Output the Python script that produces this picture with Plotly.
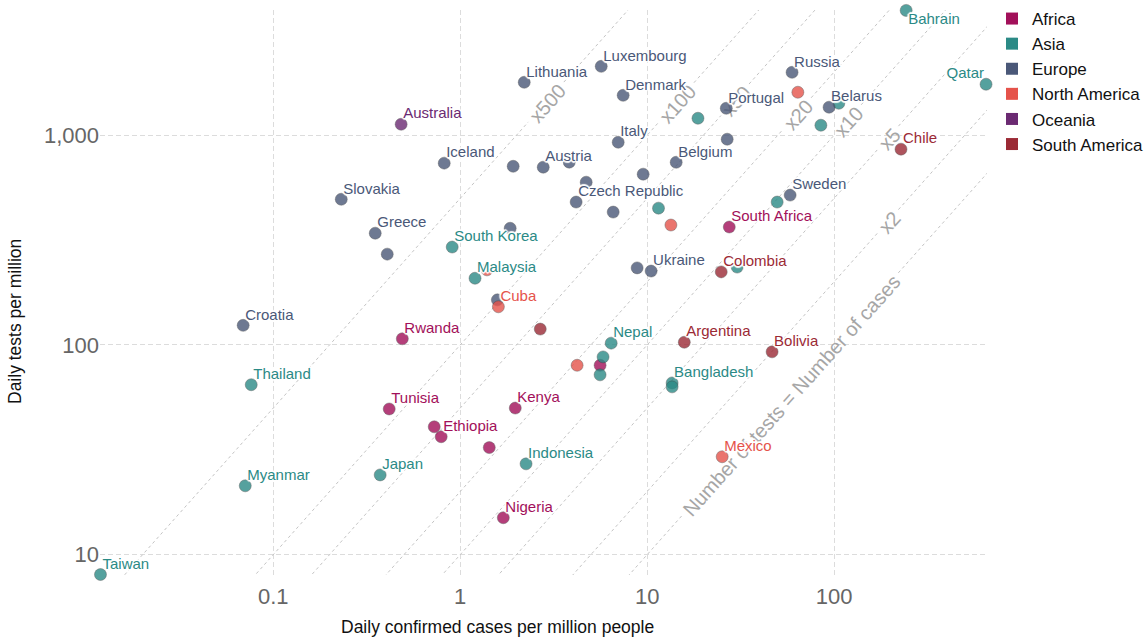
import math
import plotly.graph_objects as go

# ---------------- data ----------------
continents = ["Africa", "Asia", "Europe", "North America", "Oceania", "South America"]

africa_names = ["Rwanda", "Tunisia", "Kenya", "", "Ethiopia", "", "Nigeria", "South Africa", ""]
africa_cases = [0.49, 0.417, 1.97, 0.726, 0.791, 1.43, 1.70, 27.5, 5.6]
africa_tests = [107, 49.5, 50, 40.7, 36.5, 32.4, 15.0, 365, 80]

asia_names = ["Bahrain", "Qatar", "", "", "", "", "", "South Korea", "Malaysia", "Nepal",
              "", "", "Bangladesh", "", "Thailand", "Indonesia", "Japan", "Myanmar", "Taiwan", ""]
asia_cases = [243, 650, 18.7, 85, 106, 11.5, 49.6, 0.906, 1.20, 6.42,
              5.81, 5.6, 13.6, 13.6, 0.0762, 2.25, 0.373, 0.0708, 0.0119, 30.3]
asia_tests = [3936, 1750, 1205, 1116, 1420, 449, 480, 293, 208, 102,
              87.7, 72, 65.9, 63.1, 64.6, 27.1, 24.0, 21.3, 8.04, 235]

europe_names = ["Luxembourg", "Lithuania", "Denmark", "Portugal", "Russia", "Belarus", "", "Italy",
                "Iceland", "", "Austria", "", "Belgium", "", "", "Czech Republic", "", "Sweden",
                "Slovakia", "Greece", "", "", "", "Ukraine", "", "Croatia"]
europe_cases = [5.68, 2.20, 7.44, 26.5, 59.6, 94, 26.8, 7.0,
                0.821, 1.92, 2.78, 3.83, 14.3, 9.52, 4.72, 4.17, 6.58, 58.2,
                0.231, 0.351, 0.407, 1.85, 8.84, 10.5, 1.58, 0.069]
europe_tests = [2130, 1788, 1550, 1344, 1995, 1360, 957, 926,
                736, 711, 704, 744, 743, 652, 597, 480, 430, 518,
                495, 341, 271, 360, 233, 225, 164, 124]

namerica_names = ["", "", "Cuba", "", "Mexico", ""]
namerica_cases = [64, 13.4, 1.60, 4.22, 25.2, 1.39]
namerica_tests = [1603, 373, 152, 80, 29.3, 228]

oceania_names = ["Australia"]
oceania_cases = [0.483]
oceania_tests = [1128]

samerica_names = ["Chile", "Colombia", "Argentina", "Bolivia", ""]
samerica_cases = [228, 24.9, 15.8, 46.6, 2.68]
samerica_tests = [858, 223, 103, 92.7, 119]

ratio_values = [1, 2, 5, 10, 20, 50, 100, 500]
ratio_labels = ["Number of tests = Number of cases", "x2", "x5", "x10", "x20", "x50", "x100", "x500"]
ratio_label_at_cases = [58.2, 194.5, 194.5, 117.5, 63.4, 29.5, 14.3, 2.88]

x_tickvals = [0.1, 1, 10, 100]
x_ticktext = ["0.1", "1", "10", "100"]
y_tickvals = [10, 100, 1000]
y_ticktext = ["10", "100", "1,000"]

x_title = "Daily confirmed cases per million people"
y_title = "Daily tests per million"

# ---------------- styling ----------------
FONT = "Liberation Sans, Arial, Helvetica, sans-serif"
colors = {
    "Africa": "#a2105a",
    "Asia": "#2b8a86",
    "Europe": "#4a5878",
    "North America": "#e5534b",
    "Oceania": "#6b2a72",
    "South America": "#9b2a35",
}
special_pos = {"Bahrain": "bottom right", "Qatar": "top left"}

series = {
    "Africa": (africa_names, africa_cases, africa_tests),
    "Asia": (asia_names, asia_cases, asia_tests),
    "Europe": (europe_names, europe_cases, europe_tests),
    "North America": (namerica_names, namerica_cases, namerica_tests),
    "Oceania": (oceania_names, oceania_cases, oceania_tests),
    "South America": (samerica_names, samerica_cases, samerica_tests),
}

W, H = 1146, 641
PLOT_L, PLOT_T, PW, PH = 100, 10, 887, 565
ML, MT = PLOT_L, PLOT_T
MR, MB = W - ML - PW, H - MT - PH

x_range = [-1.927, 2.818]
y_range = [0.903, 3.597]
px_per_dec_x = PW / (x_range[1] - x_range[0])
px_per_dec_y = PH / (y_range[1] - y_range[0])
theta = math.atan(px_per_dec_y / px_per_dec_x)

# approximate Arial advance widths (em) for gap sizing
_adv = {"x": 0.5, " ": 0.278, "=": 0.584, "N": 0.722, "u": 0.556, "m": 0.833, "b": 0.556,
        "e": 0.556, "r": 0.333, "o": 0.556, "f": 0.278, "t": 0.278, "s": 0.5, "c": 0.5, "a": 0.556}
LABEL_SIZE = 20


def text_width(s, size):
    return sum(_adv.get(ch, 0.556) for ch in s) * size


fig = go.Figure()

# diagonal ratio lines, broken where their labels sit
lo, hi = x_range[0] - 1, x_range[1] + 1
for k, lab, xc in zip(ratio_values, ratio_labels, ratio_label_at_cases):
    half_px = text_width(lab, LABEL_SIZE) / 2 + 5
    g = half_px * math.cos(theta) / px_per_dec_x
    c = math.log10(xc)
    xs = [10 ** lo, 10 ** (c - g), None, 10 ** (c + g), 10 ** hi]
    ys = [None if v is None else k * v for v in xs]
    fig.add_trace(go.Scatter(
        x=xs, y=ys, mode="lines", connectgaps=False,
        line=dict(color="#c4c4c4", width=1, dash="3px,3px"),
        hoverinfo="skip", showlegend=False,
    ))

# markers
for c in continents:
    names, xs, ys = series[c]
    fig.add_trace(go.Scatter(
        x=xs, y=ys, mode="markers", name=c, showlegend=False,
        marker=dict(size=12, color=colors[c], opacity=0.8,
                    line=dict(width=1, color="rgba(60,60,60,0.45)")),
        cliponaxis=False, text=names, hoverinfo="text",
    ))

# labels (drawn after all markers)
halo = ("0 0 2px #fff, 1px 1px 1px #fff, -1px -1px 1px #fff, 1px -1px 1px #fff, "
        "-1px 1px 1px #fff, 2px 0 1px #fff, -2px 0 1px #fff, 0 2px 1px #fff, 0 -2px 1px #fff")
for c in continents:
    names, xs, ys = series[c]
    lx = [x for n, x in zip(names, xs) if n]
    ly = [y for n, y in zip(names, ys) if n]
    ln = [n for n in names if n]
    fig.add_trace(go.Scatter(
        x=lx, y=ly, mode="markers+text", text=ln,
        textposition=[special_pos.get(n, "top right") for n in ln],
        marker=dict(size=1.6, opacity=0),
        textfont=dict(family=FONT, size=15, color=colors[c], shadow=halo),
        cliponaxis=False, hoverinfo="skip", showlegend=False,
    ))

# legend entries (square swatches)
for c in continents:
    fig.add_trace(go.Scatter(
        x=[None], y=[None], mode="markers", name=c,
        marker=dict(symbol="square", size=10, color=colors[c]),
        showlegend=True,
    ))

# ratio line labels as shape labels (drawn beneath the markers)
shapes = []
f = 1.05
for k, lab, xc in zip(ratio_values, ratio_labels, ratio_label_at_cases):
    shapes.append(dict(
        type="line", xref="x", yref="y", layer="between",
        x0=xc / f, y0=k * xc / f, x1=xc * f, y1=k * xc * f,
        line=dict(color="rgba(0,0,0,0)", width=1),
        label=dict(text=lab, textposition="middle", yanchor="middle", xanchor="center",
                   padding=0, font=dict(family=FONT, size=LABEL_SIZE, color="#a6a6a6")),
    ))


def paper_x(px):
    return (px - PLOT_L) / PW


def paper_y(py):
    return (PLOT_T + PH - py) / PH


annotations = [
    dict(x=paper_x(497), y=paper_y(627), xref="paper", yref="paper", text=x_title,
         showarrow=False, font=dict(family=FONT, size=17.5, color="#111"),
         xanchor="center", yanchor="middle"),
    dict(x=paper_x(15), y=paper_y(322), xref="paper", yref="paper", text=y_title,
         showarrow=False, textangle=-90, font=dict(family=FONT, size=17.5, color="#111"),
         xanchor="center", yanchor="middle"),
]

fig.update_layout(
    width=W, height=H,
    margin=dict(l=ML, r=MR, t=MT, b=MB, autoexpand=False),
    paper_bgcolor="white", plot_bgcolor="white",
    font=dict(family=FONT),
    showlegend=True,
    legend=dict(
        x=1.0 + 5 / PW, y=1.0 + 9 / PH, xanchor="left", yanchor="top",
        font=dict(family=FONT, size=17, color="#111"),
        bgcolor="rgba(0,0,0,0)", itemsizing="constant",
    ),
    shapes=shapes,
    annotations=annotations,
    hovermode=False,
)
fig.update_xaxes(
    type="log", range=x_range, tickvals=x_tickvals, ticktext=x_ticktext, automargin=False,
    showgrid=True, gridcolor="#dcdcdc", gridwidth=1, griddash="5px,3px",
    zeroline=False, showline=False, ticks="",
    tickfont=dict(family=FONT, size=22, color="#666"), ticklabelstandoff=6,
)
fig.update_yaxes(
    type="log", range=y_range, tickvals=y_tickvals, ticktext=y_ticktext, automargin=False,
    showgrid=True, gridcolor="#dcdcdc", gridwidth=1, griddash="5px,3px",
    zeroline=False, showline=False, ticks="",
    tickfont=dict(family=FONT, size=22, color="#666"), ticklabelstandoff=0,
)

# remove the page's default body margin so the figure fills the window exactly
fig.write_html(
    "out.html",
    config={"displayModeBar": False},
    post_script="document.body.style.margin='0px';document.body.style.overflow='hidden';",
)
